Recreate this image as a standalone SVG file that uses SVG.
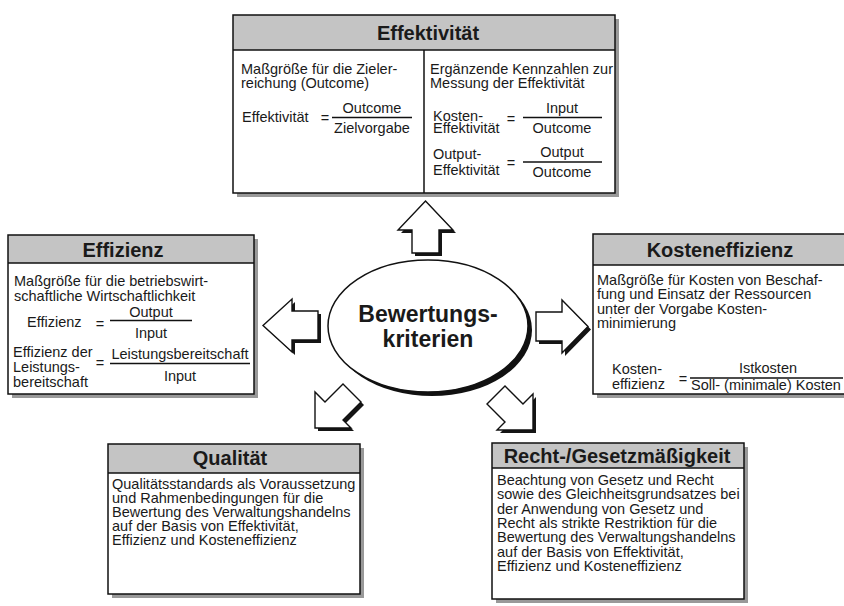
<svg xmlns="http://www.w3.org/2000/svg" width="844" height="606" viewBox="0 0 844 606">
<style>
text{font-family:"Liberation Sans",Arial,Helvetica,sans-serif;fill:#1a1a1a}
.h{font-size:20px;font-weight:bold;text-anchor:middle}
.t{font-size:14.5px}
.m{text-anchor:middle}
.hdr{fill:#c4c4c4}
.body{fill:#fff}
.frame{fill:none;stroke:#111;stroke-width:1.5}
.sh{fill:#999}
.ln{stroke:#111;stroke-width:1.5;fill:none}
.arrow{fill:#fff;stroke:#111;stroke-width:1.4;stroke-linejoin:miter}
.ashadow{fill:#151515}
.big{font-size:23px;font-weight:bold;text-anchor:middle}
</style>
<rect width="844" height="606" fill="#fff"/>

<g id="effektivitaet">
<rect class="sh" x="237" y="193" width="382" height="4"/>
<rect class="sh" x="615" y="19" width="4" height="178"/>
<rect class="hdr" x="233" y="15" width="382" height="35"/>
<rect class="body" x="233" y="50" width="382" height="143"/>
<rect class="frame" x="233" y="15" width="382" height="178"/>
<line class="ln" x1="233" y1="50" x2="615" y2="50"/>
<line class="ln" x1="424" y1="50" x2="424" y2="193"/>
<text class="h" x="428" y="40">Effektivität</text>
<text class="t" x="241" y="74">Maßgröße für die Zieler-</text>
<text class="t" x="241" y="88">reichung (Outcome)</text>
<text class="t" x="242" y="122">Effektivität</text>
<text class="t m" x="325" y="123">=</text>
<text class="t m" x="372" y="113">Outcome</text>
<line class="ln" x1="332" y1="117.5" x2="412" y2="117.5"/>
<text class="t m" x="372" y="133">Zielvorgabe</text>
<text class="t" x="430" y="74">Ergänzende Kennzahlen zur</text>
<text class="t" x="430" y="88">Messung der Effektivität</text>
<text class="t" x="433" y="120.5">Kosten-</text>
<text class="t" x="433" y="133">Effektivität</text>
<text class="t m" x="511" y="124">=</text>
<text class="t m" x="562" y="113">Input</text>
<line class="ln" x1="523" y1="117.5" x2="602" y2="117.5"/>
<text class="t m" x="562" y="133">Outcome</text>
<text class="t" x="433" y="159">Output-</text>
<text class="t" x="433" y="175">Effektivität</text>
<text class="t m" x="511" y="168">=</text>
<text class="t m" x="562" y="157">Output</text>
<line class="ln" x1="523" y1="162" x2="602" y2="162"/>
<text class="t m" x="562" y="177">Outcome</text>
</g>

<g id="effizienz">
<rect class="sh" x="12" y="394" width="246" height="4"/>
<rect class="sh" x="254" y="239" width="4" height="159"/>
<rect class="hdr" x="8" y="235" width="246" height="28"/>
<rect class="body" x="8" y="263" width="246" height="131"/>
<rect class="frame" x="8" y="235" width="246" height="159"/>
<line class="ln" x1="8" y1="263" x2="254" y2="263"/>
<text class="h" x="123" y="257">Effizienz</text>
<text class="t" x="14" y="285.5">Maßgröße für die betriebswirt-</text>
<text class="t" x="14" y="300.5">schaftliche Wirtschaftlichkeit</text>
<text class="t" x="27" y="327">Effizienz</text>
<text class="t m" x="100" y="329">=</text>
<text class="t m" x="151" y="316.5">Output</text>
<line class="ln" x1="110" y1="320.5" x2="192" y2="320.5"/>
<text class="t m" x="151" y="338">Input</text>
<text class="t" x="13" y="357">Effizienz der</text>
<text class="t" x="13" y="372">Leistungs-</text>
<text class="t" x="13" y="387">bereitschaft</text>
<text class="t m" x="100" y="368">=</text>
<text class="t m" x="180" y="359">Leistungsbereitschaft</text>
<line class="ln" x1="110" y1="363.5" x2="250" y2="363.5"/>
<text class="t m" x="180" y="381">Input</text>
</g>

<g id="kosteneffizienz">
<rect class="sh" x="597" y="394" width="260" height="4"/>
<rect class="hdr" x="593" y="234" width="260" height="31"/>
<rect class="body" x="593" y="265" width="260" height="129"/>
<rect class="frame" x="593" y="234" width="260" height="160"/>
<line class="ln" x1="593" y1="265" x2="853" y2="265"/>
<text class="h" x="720" y="257">Kosteneffizienz</text>
<text class="t" x="597" y="285">Maßgröße für Kosten von Beschaf-</text>
<text class="t" x="597" y="299.3">fung und Einsatz der Ressourcen</text>
<text class="t" x="597" y="313.6">unter der Vorgabe Kosten-</text>
<text class="t" x="597" y="328">minimierung</text>
<text class="t" x="612" y="374">Kosten-</text>
<text class="t" x="612" y="389">effizienz</text>
<text class="t m" x="683" y="384">=</text>
<text class="t m" x="768" y="373">Istkosten</text>
<line class="ln" x1="690" y1="378" x2="843" y2="378"/>
<text class="t m" x="766" y="390">Soll- (minimale) Kosten</text>
</g>

<g id="qualitaet">
<rect class="sh" x="112" y="594" width="252" height="4"/>
<rect class="sh" x="360" y="448" width="4" height="150"/>
<rect class="hdr" x="108" y="444" width="252" height="29"/>
<rect class="body" x="108" y="473" width="252" height="121"/>
<rect class="frame" x="108" y="444" width="252" height="150"/>
<line class="ln" x1="108" y1="473" x2="360" y2="473"/>
<text class="h" x="230" y="465">Qualität</text>
<text class="t" x="112" y="489">Qualitätsstandards als Voraussetzung</text>
<text class="t" x="112" y="503">und Rahmenbedingungen für die</text>
<text class="t" x="112" y="517">Bewertung des Verwaltungshandelns</text>
<text class="t" x="112" y="531">auf der Basis von Effektivität,</text>
<text class="t" x="112" y="545">Effizienz und Kosteneffizienz</text>
</g>

<g id="rechtmaessigkeit">
<rect class="sh" x="496" y="599" width="252" height="4"/>
<rect class="sh" x="744" y="447" width="4" height="156"/>
<rect class="hdr" x="492" y="443" width="252" height="25"/>
<rect class="body" x="492" y="468" width="252" height="131"/>
<rect class="frame" x="492" y="443" width="252" height="156"/>
<line class="ln" x1="492" y1="468" x2="744" y2="468"/>
<text class="h" x="617" y="463">Recht-/Gesetzmäßigkeit</text>
<text class="t" x="497" y="485">Beachtung von Gesetz und Recht</text>
<text class="t" x="497" y="499.3">sowie des Gleichheitsgrundsatzes bei</text>
<text class="t" x="497" y="513.6">der Anwendung von Gesetz und</text>
<text class="t" x="497" y="527.9">Recht als strikte Restriktion für die</text>
<text class="t" x="497" y="542.2">Bewertung des Verwaltungshandelns</text>
<text class="t" x="497" y="556.5">auf der Basis von Effektivität,</text>
<text class="t" x="497" y="570.8">Effizienz und Kosteneffizienz</text>
</g>

<g id="bewertungskriterien">
<ellipse cx="432" cy="330" rx="100" ry="66" fill="#111"/>
<ellipse cx="428" cy="326" rx="100" ry="66" fill="#fff" stroke="#111" stroke-width="1.5"/>
<text class="big" x="428" y="322">Bewertungs-</text>
<text class="big" x="428" y="347">kriterien</text>
</g>

<g id="connectors">
<g transform="translate(3,3)">
<path class="ashadow" d="M425.5,201 L453,230 L439,230 L439,253 L412,253 L412,230 L398,230 Z"/>
<path class="ashadow" d="M263,325.5 L292,299 L292,311 L318,311 L318,340 L292,340 L292,352 Z"/>
<path class="ashadow" d="M588,326.5 L562,300 L562,312 L536,312 L536,341 L562,341 L562,353 Z"/>
<path class="ashadow" d="M315,428 L315,392 L325,402 L343,384 L361,402 L343,420 L351,428 Z"/>
<path class="ashadow" d="M533,430 L533,394 L523,404 L505,386 L487,404 L505,422 L497,430 Z"/>
</g>
<path class="arrow" d="M425.5,201 L453,230 L439,230 L439,253 L412,253 L412,230 L398,230 Z"/>
<path class="arrow" d="M263,325.5 L292,299 L292,311 L318,311 L318,340 L292,340 L292,352 Z"/>
<path class="arrow" d="M588,326.5 L562,300 L562,312 L536,312 L536,341 L562,341 L562,353 Z"/>
<path class="arrow" d="M315,428 L315,392 L325,402 L343,384 L361,402 L343,420 L351,428 Z"/>
<path class="arrow" d="M533,430 L533,394 L523,404 L505,386 L487,404 L505,422 L497,430 Z"/>
</g>
</svg>
